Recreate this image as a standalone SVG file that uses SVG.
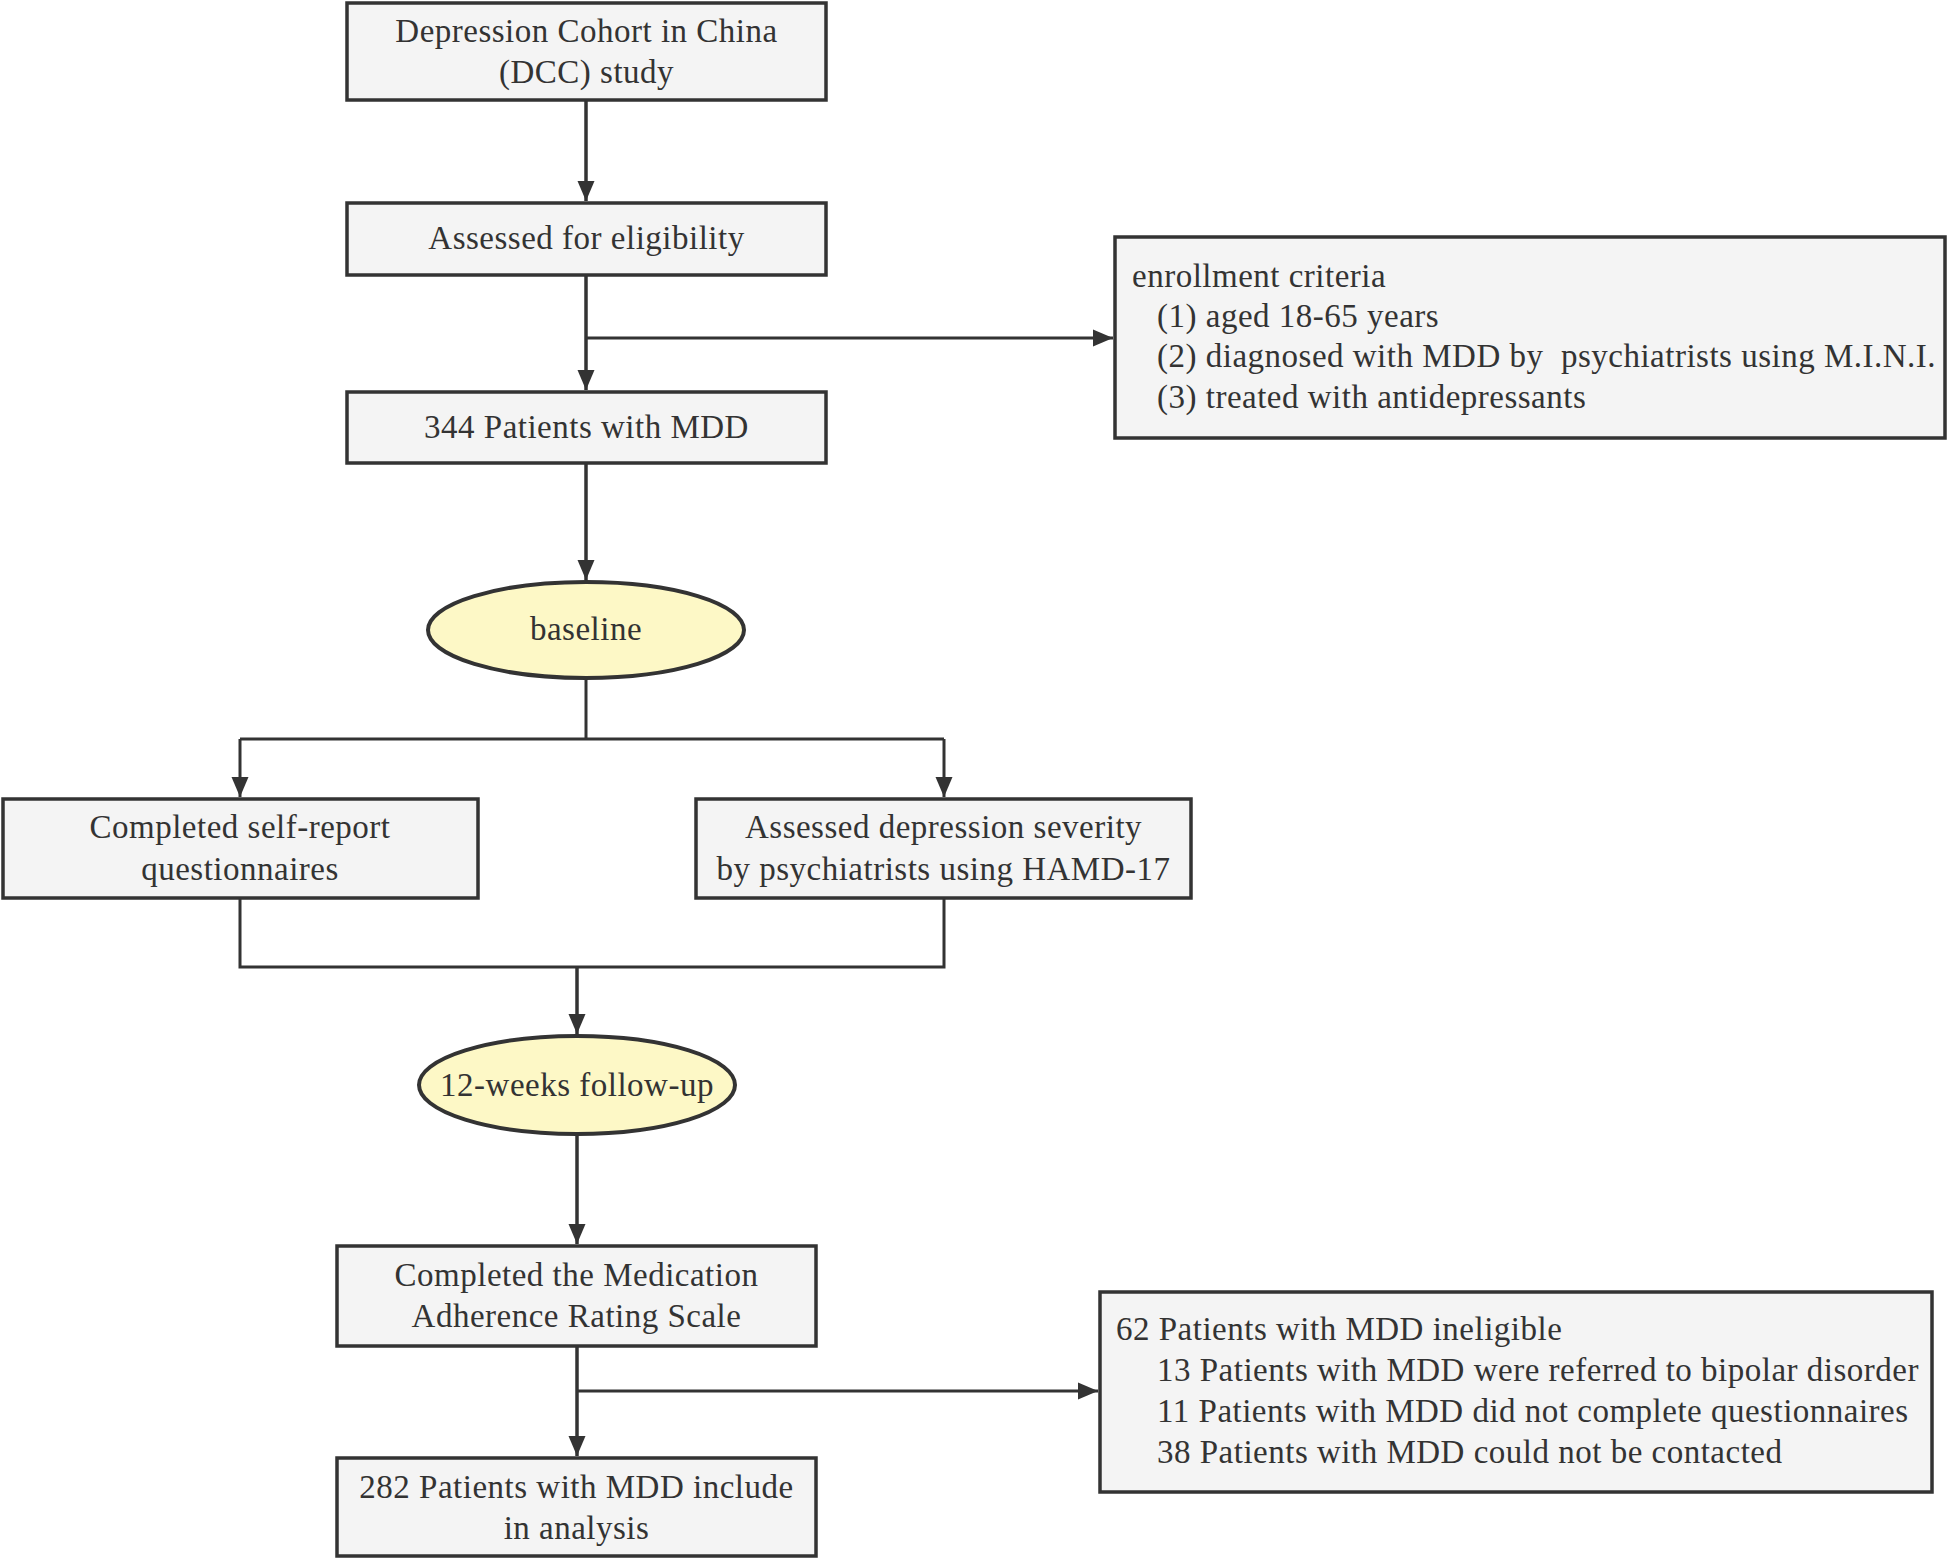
<svg xmlns="http://www.w3.org/2000/svg" width="1948" height="1558" viewBox="0 0 1948 1558">
<style>
.box{fill:#f4f4f4;stroke:#333;stroke-width:3.5}
.ell{fill:#fdf8c6;stroke:#333;stroke-width:4}
text{font-family:"Liberation Serif","Times New Roman",serif;font-size:33px;fill:#333;letter-spacing:0.5px;white-space:pre}
.c{text-anchor:middle}
.ln{fill:none;stroke:#333;stroke-width:3.5}
.lt{fill:none;stroke:#333;stroke-width:3}
</style>
<defs>
<marker id="ah" markerUnits="userSpaceOnUse" markerWidth="22" markerHeight="18" refX="20" refY="9" orient="auto">
<path d="M0,0.5 L20,9 L0,17.5 z" fill="#333"/>
</marker>
</defs>
<rect width="1948" height="1558" fill="#fff"/>
<g id="connectors">
<path class="ln" d="M586,100 V201" marker-end="url(#ah)"/>
<path class="ln" d="M586,275 V390" marker-end="url(#ah)"/>
<path class="lt" d="M586,338 H1113" marker-end="url(#ah)"/>
<path class="ln" d="M586,463 V580" marker-end="url(#ah)"/>
<path class="lt" d="M586,678 V739"/>
<path class="lt" d="M240,739 H944"/>
<path class="lt" d="M240,739 V797" marker-end="url(#ah)"/>
<path class="lt" d="M944,739 V797" marker-end="url(#ah)"/>
<path class="lt" d="M240,898 V967 H944 V898"/>
<path class="ln" d="M577,967 V1034" marker-end="url(#ah)"/>
<path class="ln" d="M577,1134 V1244" marker-end="url(#ah)"/>
<path class="ln" d="M577,1346 V1456" marker-end="url(#ah)"/>
<path class="lt" d="M577,1391 H1098" marker-end="url(#ah)"/>
</g>
<g id="n1">
<rect class="box" x="347" y="3" width="479" height="97"/>
<text class="c" x="586.5" y="42">Depression Cohort in China</text>
<text class="c" x="586.5" y="83">(DCC) study</text>
</g>
<g id="n2">
<rect class="box" x="347" y="203" width="479" height="72"/>
<text class="c" x="586.5" y="249">Assessed for eligibility</text>
</g>
<g id="n3">
<rect class="box" x="347" y="392" width="479" height="71"/>
<text class="c" x="586.5" y="438">344 Patients with MDD</text>
</g>
<g id="criteria">
<rect class="box" x="1115" y="237" width="830" height="201"/>
<text x="1132" y="287">enrollment criteria</text>
<text x="1157" y="327">(1) aged 18-65 years</text>
<text x="1157" y="367" xml:space="preserve">(2) diagnosed with MDD by  psychiatrists using M.I.N.I.</text>
<text x="1157" y="408">(3) treated with antidepressants</text>
</g>
<g id="baseline">
<ellipse class="ell" cx="586" cy="630" rx="158" ry="48"/>
<text class="c" x="586" y="640">baseline</text>
</g>
<g id="selfreport">
<rect class="box" x="3" y="799" width="475" height="99"/>
<text class="c" x="240" y="838">Completed self-report</text>
<text class="c" x="240" y="880">questionnaires</text>
</g>
<g id="hamd">
<rect class="box" x="696" y="799" width="495" height="99"/>
<text class="c" x="943.5" y="838">Assessed depression severity</text>
<text class="c" x="943.5" y="880">by psychiatrists using HAMD-17</text>
</g>
<g id="followup">
<ellipse class="ell" cx="577" cy="1085" rx="158" ry="49"/>
<text class="c" x="577" y="1096">12-weeks follow-up</text>
</g>
<g id="mars">
<rect class="box" x="337" y="1246" width="479" height="100"/>
<text class="c" x="576.5" y="1286">Completed the Medication</text>
<text class="c" x="576.5" y="1327">Adherence Rating Scale</text>
</g>
<g id="analysis">
<rect class="box" x="337" y="1458" width="479" height="98"/>
<text class="c" x="576.5" y="1498">282 Patients with MDD include</text>
<text class="c" x="576.5" y="1539">in analysis</text>
</g>
<g id="ineligible">
<rect class="box" x="1100" y="1292" width="832" height="200"/>
<text x="1116" y="1340">62 Patients with MDD ineligible</text>
<text x="1157" y="1381">13 Patients with MDD were referred to bipolar disorder</text>
<text x="1157" y="1422">11 Patients with MDD did not complete questionnaires</text>
<text x="1157" y="1463">38 Patients with MDD could not be contacted</text>
</g>
</svg>
